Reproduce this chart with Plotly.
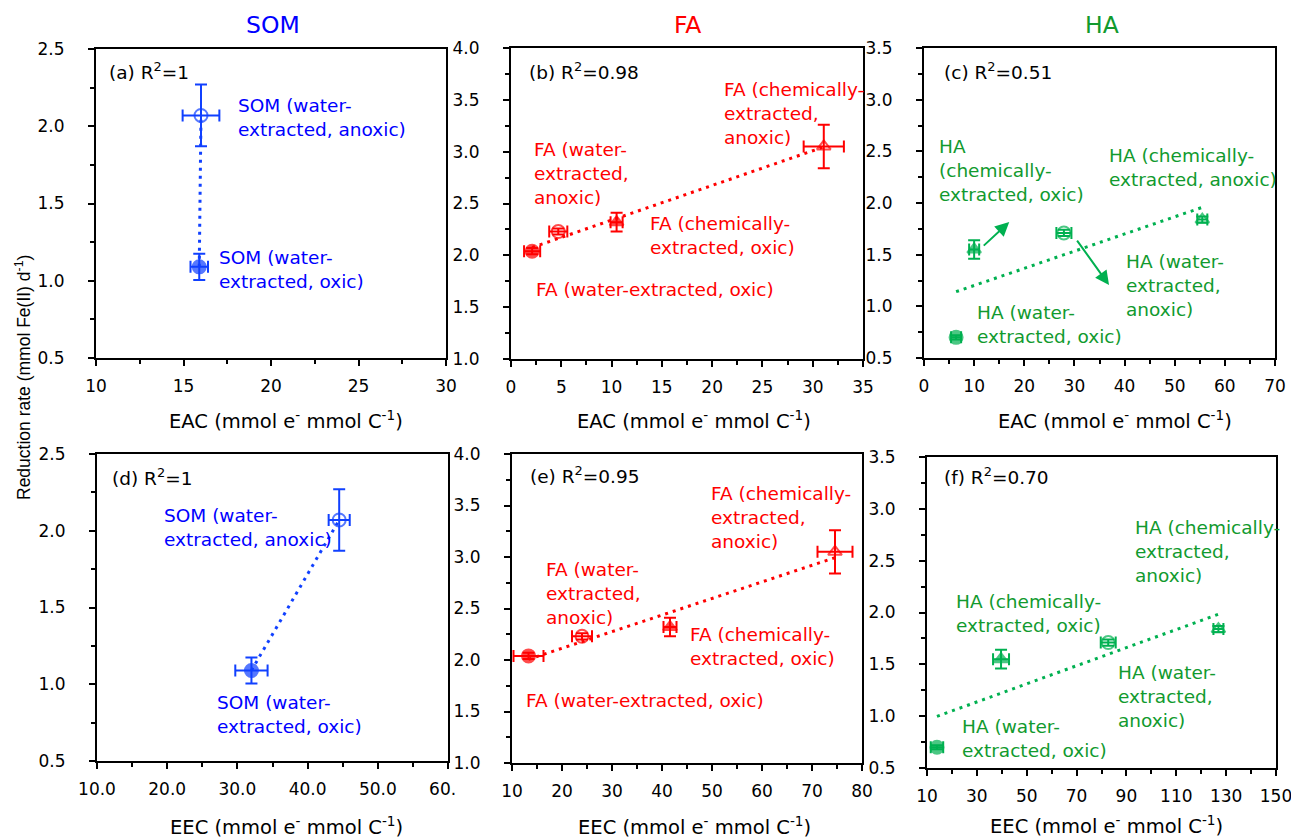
import numpy as np
import plotly.graph_objects as go

# ---------------- data ----------------
states = ["water-extracted, oxic", "water-extracted, anoxic",
          "chemically-extracted, oxic", "chemically-extracted, anoxic"]

som_eac = [15.9, 16.0]
som_eac_err = [0.5, 1.05]
som_eec = [32.0, 44.5]
som_eec_err = [2.3, 1.5]
som_rate = [1.09, 2.07]
som_rate_err = [0.085, 0.2]

fa_eac = [2.1, 4.7, 10.5, 31.1]
fa_eac_err = [0.8, 0.9, 0.6, 2.0]
fa_eec = [13.3, 24.0, 41.6, 74.6]
fa_eec_err = [3.0, 2.0, 1.3, 3.5]
fa_rate = [2.04, 2.23, 2.32, 3.05]
fa_rate_err = [0.03, 0.03, 0.09, 0.21]

ha_eac = [6.4, 27.9, 10.0, 55.5]
ha_eac_err = [1.0, 1.5, 1.0, 1.0]
ha_eec = [14.0, 82.7, 39.7, 126.9]
ha_eec_err = [2.5, 3.0, 3.2, 2.0]
ha_rate = [0.70, 1.71, 1.55, 1.84]
ha_rate_err = [0.02, 0.03, 0.09, 0.03]

r2_texts = ["(a) R<sup>2</sup>=1", "(b) R<sup>2</sup>=0.98", "(c) R<sup>2</sup>=0.51",
            "(d) R<sup>2</sup>=1", "(e) R<sup>2</sup>=0.95", "(f) R<sup>2</sup>=0.70"]
col_titles = ["SOM", "FA", "HA"]
eac_title = "EAC (mmol e<sup>-</sup> mmol C<sup>-1</sup>)"
eec_title = "EEC (mmol e<sup>-</sup> mmol C<sup>-1</sup>)"
y_title = "Reduction rate (mmol Fe(II) d<sup>-1</sup>)"

# label texts and their anchor positions (data units of each panel)
labels = {
    1: [("SOM (water-<br>extracted, anoxic)", 18.0, 2.057),
        ("SOM (water-<br>extracted, oxic)", 16.9, 1.073)],
    2: [("FA (chemically-<br>extracted,<br>anoxic)", 20.98, 3.368),
        ("FA (water-<br>extracted,<br>anoxic)", 2.09, 2.794),
        ("FA (chemically-<br>extracted, oxic)", 13.62, 2.187),
        ("FA (water-extracted, oxic)", 2.29, 1.675)],
    3: [("HA<br>(chemically-<br>extracted, oxic)", 2.59, 2.319),
        ("HA (chemically-<br>extracted, anoxic)", 36.5, 2.343),
        ("HA (water-<br>extracted,<br>anoxic)", 39.9, 1.206),
        ("HA (water-<br>extracted, oxic)", 10.17, 0.824)],
    4: [("SOM (water-<br>extracted, anoxic)", 19.26, 2.018),
        ("SOM (water-<br>extracted, oxic)", 26.8, 0.806)],
    5: [("FA (chemically-<br>extracted,<br>anoxic)", 49.4, 3.388),
        ("FA (water-<br>extracted,<br>anoxic)", 16.4, 2.65),
        ("FA (chemically-<br>extracted, oxic)", 45.2, 2.131),
        ("FA (water-extracted, oxic)", 12.4, 1.602)],
    6: [("HA (chemically-<br>extracted,<br>anoxic)", 92.6, 2.593),
        ("HA (chemically-<br>extracted, oxic)", 20.8, 1.986),
        ("HA (water-<br>extracted,<br>anoxic)", 85.8, 1.185),
        ("HA (water-<br>extracted, oxic)", 23.2, 0.789)],
}
r2_pos = [(10.63, 2.358), (1.59, 3.778), (3.59, 3.277),
          (11.85, 2.35), (13.2, 3.796), (16.0, 3.317)]
# arrows in panel (c): head (data) and tail offset (px)
arrows_c = [(17.0, 1.816, -27, 25), (36.9, 1.206, -33, -46)]

# ---------------- styling ----------------
W, H = 1291, 839
BLUE_T, BLUE_M = "#0000FF", "#1040FF"
RED_T, RED_M = "#FF0000", "#FF0000"
GREEN_T, GREEN_M = "#119A2E", "#00B050"
FONT = "DejaVu Sans"
YT_FONT = "Liberation Sans, Arial, sans-serif"

sym4 = ["circle", "circle-open", "triangle-up", "triangle-up-open"]
sym2 = ["circle", "circle-open"]

# panel pixel boxes: x0, x1, ytop, ybottom
boxes = [(96, 446, 49, 358), (511, 863, 48, 359), (924, 1275, 48, 358),
         (97, 448, 454, 761), (512, 862, 454, 763), (927, 1276, 457, 768)]

xcfg = [([10, 30], 5, 2.5, "d"), ([0, 35], 5, 2.5, "d"), ([0, 70], 10, 5, "d"),
        ([10, 60], 10, 5, ".1f"), ([10, 80], 10, 5, "d"), ([10, 150], 20, 10, "d")]
ycfg = [([0.5, 2.5], 0.5, 0.25), ([1.0, 4.0], 0.5, 0.25), ([0.5, 3.5], 0.5, 0.25),
        ([0.5, 2.5], 0.5, 0.25), ([1.0, 4.0], 0.5, 0.25), ([0.5, 3.5], 0.5, 0.25)]

panels = [
    (som_eac, som_eac_err, som_rate, som_rate_err, sym2, BLUE_M, BLUE_T),
    (fa_eac, fa_eac_err, fa_rate, fa_rate_err, sym4, RED_M, RED_T),
    (ha_eac, ha_eac_err, ha_rate, ha_rate_err, sym4, GREEN_M, GREEN_T),
    (som_eec, som_eec_err, som_rate, som_rate_err, sym2, BLUE_M, BLUE_T),
    (fa_eec, fa_eec_err, fa_rate, fa_rate_err, sym4, RED_M, RED_T),
    (ha_eec, ha_eec_err, ha_rate, ha_rate_err, sym4, GREEN_M, GREEN_T),
]

fig = go.Figure()
annotations = []
layout = {}

for i, (xv, xe, yv, ye, syms, cm, ct) in enumerate(panels):
    k = i + 1
    xa = "x" if k == 1 else f"x{k}"
    ya = "y" if k == 1 else f"y{k}"
    # linear trendline over the data range
    coef = np.polyfit(xv, yv, 1)
    xs = np.array([min(xv), max(xv)])
    fig.add_trace(go.Scatter(x=xs, y=np.polyval(coef, xs), mode="lines",
                             line=dict(color=cm, width=3, dash="3px,5px"),
                             xaxis=xa, yaxis=ya, showlegend=False, hoverinfo="skip"))
    sizes = [13 if s.startswith("circle") else 12 for s in syms]
    fig.add_trace(go.Scatter(
        x=xv, y=yv, mode="markers", xaxis=xa, yaxis=ya, showlegend=False,
        text=states[:len(xv)],
        marker=dict(symbol=syms, size=sizes, color=cm, line=dict(color=cm, width=2)),
        error_x=dict(type="data", array=xe, color=cm, thickness=2, width=6),
        error_y=dict(type="data", array=ye, color=cm, thickness=2, width=6)))

    x0, x1, yt, yb = boxes[i]
    rng, dt, mdt, fmt = xcfg[i]
    yr, ydt, ymdt = ycfg[i]
    common = dict(showline=True, linecolor="black", linewidth=2, mirror=True,
                  ticks="outside", ticklen=6, tickwidth=2, tickcolor="black",
                  showgrid=False, zeroline=False, automargin=False,
                  ticklabeloverflow="allow",
                  tickfont=dict(family=FONT, size=17, color="black"))
    layout["xaxis" if k == 1 else f"xaxis{k}"] = dict(
        domain=[x0 / W, x1 / W], range=rng, dtick=dt, tick0=rng[0], tickformat=fmt,
        anchor=ya, ticklabelstandoff=6,
        minor=dict(dtick=mdt, ticks="outside", ticklen=4, tickwidth=1.5,
                   tickcolor="black", showgrid=False), **common)
    layout["yaxis" if k == 1 else f"yaxis{k}"] = dict(
        domain=[1 - yb / H, 1 - yt / H], range=yr, dtick=ydt, tick0=yr[0], tickformat=".1f",
        anchor=xa, ticklabelstandoff=20,
        minor=dict(dtick=ymdt, ticks="outside", ticklen=4, tickwidth=1.5,
                   tickcolor="black", showgrid=False), **common)

    for (txt, lx, ly) in labels[k]:
        annotations.append(dict(text=txt, x=lx, y=ly, xref=xa, yref=ya, showarrow=False,
                                xanchor="left", yanchor="middle", align="left",
                                font=dict(family=FONT, size=18.5, color=ct)))
    rx, ry = r2_pos[i]
    annotations.append(dict(text=r2_texts[i], x=rx, y=ry, xref=xa, yref=ya, showarrow=False,
                            xanchor="left", yanchor="middle",
                            font=dict(family=FONT, size=18.5, color="black")))

for (hx, hy, tx, ty) in arrows_c:
    annotations.append(dict(text="", x=hx, y=hy, xref="x3", yref="y3", ax=tx, ay=ty,
                            showarrow=True, arrowhead=2, arrowsize=1.4, arrowwidth=2,
                            arrowcolor=GREEN_M))

# column titles
for t, cx, c in zip(col_titles, [273, 687, 1102], [BLUE_T, RED_T, GREEN_T]):
    annotations.append(dict(text=t, x=cx / W, y=1 - 25 / H, xref="paper", yref="paper",
                            showarrow=False, xanchor="center", yanchor="middle",
                            font=dict(family=FONT, size=23.5, color=c)))
# axis titles
for cx, cy, t in [(286, 420, eac_title), (694, 420, eac_title), (1115, 420, eac_title),
                  (286, 826, eec_title), (694, 826, eec_title), (1106, 825, eec_title)]:
    annotations.append(dict(text=t, x=cx / W, y=1 - cy / H, xref="paper", yref="paper",
                            showarrow=False, xanchor="center", yanchor="middle",
                            font=dict(family=FONT, size=19.5, color="black")))
annotations.append(dict(text=y_title, x=23 / W, y=1 - 378 / H, xref="paper", yref="paper",
                        showarrow=False, textangle=-90, xanchor="center", yanchor="middle",
                        font=dict(family=YT_FONT, size=17.5, color="black")))

# white strip clipping the last x tick label of panel (d), as in the original
shapes = [dict(type="rect", xref="paper", yref="paper", layer="above",
               x0=456 / W, x1=472 / W, y0=1 - 800 / H, y1=1 - 772 / H,
               fillcolor="white", line=dict(width=0))]

fig.update_layout(width=W, height=H, margin=dict(l=0, r=0, t=0, b=0, autoexpand=False),
                  paper_bgcolor="white", plot_bgcolor="white",
                  annotations=annotations, shapes=shapes, **layout)

fig.write_html("out.html", config={"displayModeBar": False},
               post_script="document.body.style.margin='0';")
